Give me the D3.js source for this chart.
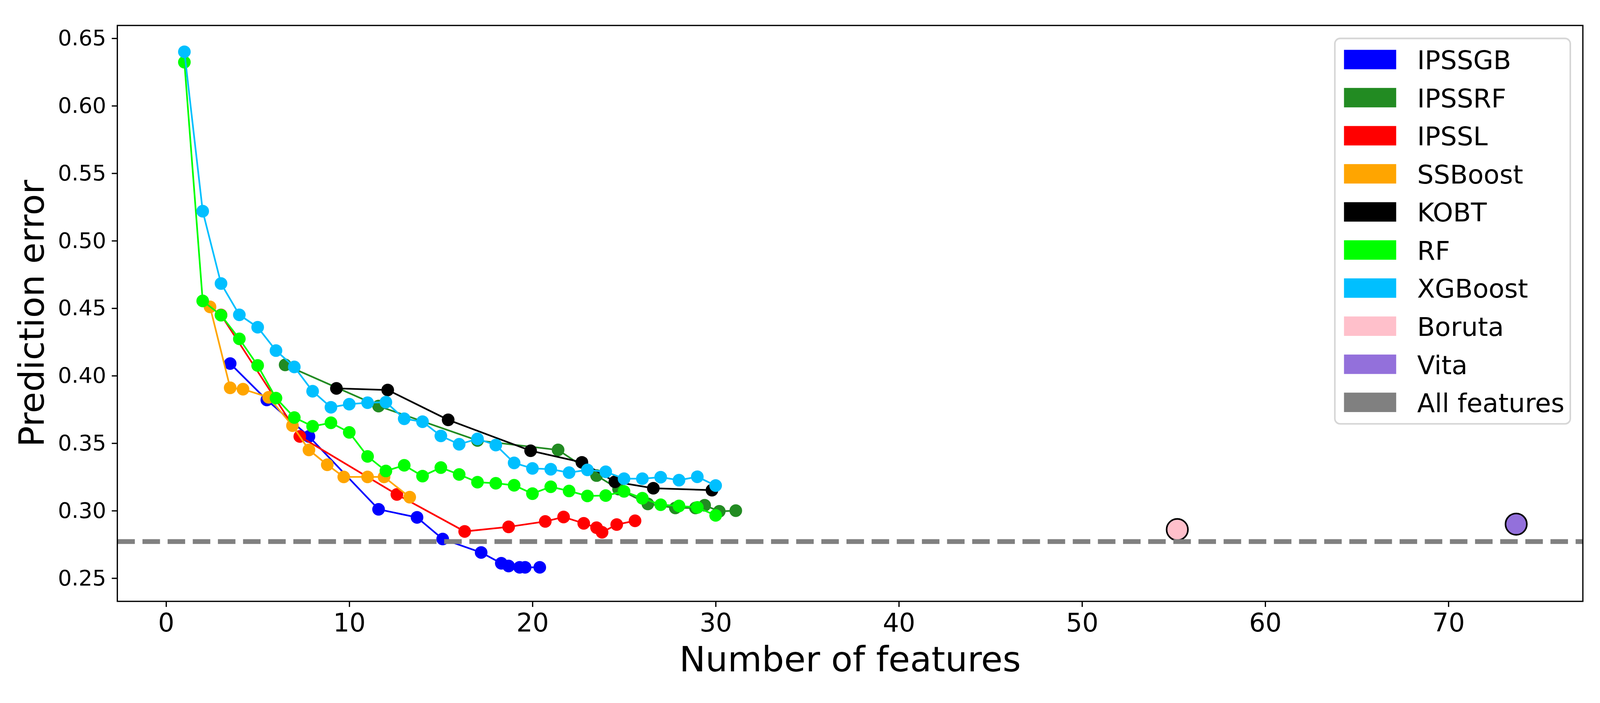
<!DOCTYPE html>
<html>
<head>
<meta charset="utf-8">
<script src="https://d3js.org/d3.v7.min.js"></script>
<style>
    html, body { margin: 0; padding: 0; width: 100%; height: 100%; overflow: hidden; background: #fff; }
    #chart { display: block; width: 100vw; height: 100vh; }
    text { font-family: "DejaVu Sans", sans-serif; }
</style>
</head>
<body>
<svg id="chart" viewBox="0 0 4200 1800" preserveAspectRatio="xMidYMid meet"></svg>
<script>
    // values (number of features, prediction error)
    const ipssgbX = [3.5, 5.5, 7.8, 11.6, 13.7, 15.1, 17.2, 18.3, 18.7, 19.3, 19.6, 20.4];
    const ipssgbY = [0.409, 0.382, 0.355, 0.301, 0.295, 0.279, 0.269, 0.261, 0.259, 0.258, 0.258, 0.258];

    const ipssrfX = [6.5, 11.6, 17.0, 21.4, 23.5, 24.7, 26.3, 27.8, 28.9, 29.4, 30.2, 31.1];
    const ipssrfY = [0.408, 0.3775, 0.352, 0.345, 0.326, 0.316, 0.305, 0.302, 0.302, 0.304, 0.2995, 0.300];

    const ipsslX = [3, 7.3, 12.6, 16.3, 18.7, 20.7, 21.7, 22.8, 23.5, 23.8, 24.6, 25.6];
    const ipsslY = [0.445, 0.355, 0.312, 0.2846, 0.288, 0.292, 0.2953, 0.2906, 0.2874, 0.284, 0.2897, 0.2925];

    const ssboostX = [2.4, 3.5, 4.2, 5.6, 6.9, 7.8, 8.8, 9.7, 11.0, 11.9, 13.3];
    const ssboostY = [0.451, 0.391, 0.390, 0.384, 0.363, 0.345, 0.334, 0.325, 0.325, 0.325, 0.310];

    const kobtX = [9.3, 12.1, 15.4, 19.9, 22.7, 24.5, 26.6, 29.8];
    const kobtY = [0.3906, 0.3894, 0.3673, 0.3444, 0.3358, 0.3214, 0.3166, 0.3152];

    const rfX = [1, 2, 3, 4, 5, 6, 7, 8, 9, 10, 11, 12, 13, 14, 15, 16, 17, 18, 19, 20, 21, 22, 23, 24, 25, 26, 27, 28, 29, 30];
    const rfY = [0.6323, 0.4554, 0.4448, 0.4273, 0.4076, 0.3834, 0.369, 0.3625, 0.3651, 0.358,
                 0.3402, 0.3294, 0.3336, 0.3256, 0.3319, 0.3268, 0.3211, 0.3203, 0.3188, 0.3126,
                 0.3177, 0.3146, 0.3109, 0.3112, 0.3143, 0.3092, 0.3044, 0.3035, 0.3024, 0.2965];

    const xgbX = [1, 2, 3, 4, 5, 6, 7, 8, 9, 10, 11, 12, 13, 14, 15, 16, 17, 18, 19, 20, 21, 22, 23, 24, 25, 26, 27, 28, 29, 30];
    const xgbY = [0.640, 0.5219, 0.4683, 0.4451, 0.4359, 0.4186, 0.4065, 0.3885, 0.3766, 0.3789,
                  0.3800, 0.3804, 0.3681, 0.3659, 0.3554, 0.3492, 0.3532, 0.3486, 0.3354, 0.3313,
                  0.3307, 0.3282, 0.3302, 0.3288, 0.3237, 0.3237, 0.3248, 0.3226, 0.3251, 0.3186];

    const borutaPoint = [55.2, 0.286];
    const vitaPoint = [73.7, 0.290];
    const allFeaturesError = 0.2771;

    const legendLabels = ["IPSSGB", "IPSSRF", "IPSSL", "SSBoost", "KOBT", "RF", "XGBoost", "Boruta", "Vita", "All features"];
    const legendColors = ["#0000ff", "#228b22", "#ff0000", "#ffa500", "#000000", "#00ff00", "#00bfff", "#ffc0cb", "#9370db", "#808080"];

    const xTicks = [0, 10, 20, 30, 40, 50, 60, 70];
    const yTicks = [0.25, 0.30, 0.35, 0.40, 0.45, 0.50, 0.55, 0.60, 0.65];

    // layout
    const margin = { top: 44, right: 45, bottom: 244, left: 308 },
        width = 4200 - margin.left - margin.right,
        height = 1800 - margin.top - margin.bottom;

    const svg = d3.select("#chart");
    svg.append("rect").attr("width", 4200).attr("height", 1800).attr("fill", "#fff");
    const g = svg.append("g")
        .attr("transform", "translate(" + margin.left + "," + margin.top + ")");

    const x = d3.scaleLinear()
        .domain([-2.66, 77.34])
        .range([0, width]);
    const y = d3.scaleLinear()
        .domain([0.2328, 0.6595])
        .range([height, 0]);

    // axes
    const xAxis = g.append("g")
        .attr("transform", "translate(0," + height + ")")
        .call(d3.axisBottom(x).tickValues(xTicks).tickFormat(d3.format("d"))
            .tickSize(14.6).tickPadding(17));
    xAxis.selectAll("text").attr("font-size", 67).attr("fill", "#000");

    const yAxis = g.append("g")
        .call(d3.axisLeft(y).tickValues(yTicks).tickFormat(d3.format(".2f"))
            .tickSize(14.6).tickPadding(14.6));
    yAxis.selectAll("text").attr("font-size", 57).attr("fill", "#000");

    [xAxis, yAxis].forEach(function(a) {
        a.select(".domain").remove();
        a.selectAll("line").attr("stroke", "#000").attr("stroke-width", 3.3);
    });

    // axis labels
    g.append("text")
        .attr("x", width / 2)
        .attr("y", 1740 - margin.top)
        .attr("text-anchor", "middle")
        .attr("font-size", 92)
        .text("Number of features");

    g.append("text")
        .attr("transform", "translate(" + (115 - margin.left) + "," + (height / 2) + ") rotate(-90)")
        .attr("text-anchor", "middle")
        .attr("font-size", 91)
        .text("Prediction error");

    // scatter points go under the lines (matplotlib zorder)
    const singles = [
        { p: borutaPoint, color: legendColors[7] },
        { p: vitaPoint, color: legendColors[8] }
    ];
    g.selectAll(".single")
        .data(singles)
        .join("circle")
        .attr("class", "single")
        .attr("cx", d => x(d.p[0]))
        .attr("cy", d => y(d.p[1]))
        .attr("r", 28)
        .attr("fill", d => d.color)
        .attr("stroke", "#000")
        .attr("stroke-width", 4.2);

    // line series, in plotting order
    const series = [
        { xs: ipssgbX, ys: ipssgbY, color: legendColors[0] },
        { xs: ipssrfX, ys: ipssrfY, color: legendColors[1] },
        { xs: ipsslX, ys: ipsslY, color: legendColors[2] },
        { xs: ssboostX, ys: ssboostY, color: legendColors[3] },
        { xs: kobtX, ys: kobtY, color: legendColors[4] },
        { xs: rfX, ys: rfY, color: legendColors[5] },
        { xs: xgbX, ys: xgbY, color: legendColors[6] }
    ];

    const line = d3.line()
        .x(d => x(d[0]))
        .y(d => y(d[1]));

    series.forEach(function(s) {
        const pts = s.xs.map((v, i) => [v, s.ys[i]]);
        const sg = g.append("g");
        sg.append("path")
            .datum(pts)
            .attr("d", line)
            .attr("fill", "none")
            .attr("stroke", s.color)
            .attr("stroke-width", 4.4)
            .attr("stroke-linejoin", "round");
        sg.selectAll("circle")
            .data(pts)
            .join("circle")
            .attr("cx", d => x(d[0]))
            .attr("cy", d => y(d[1]))
            .attr("r", 16.6)
            .attr("fill", s.color);
    });

    // all features reference line
    g.append("line")
        .attr("x1", 0)
        .attr("x2", width)
        .attr("y1", y(allFeaturesError))
        .attr("y2", y(allFeaturesError))
        .attr("stroke", legendColors[9])
        .attr("stroke-width", 12.5)
        .attr("stroke-dasharray", "46,20");

    // frame
    g.append("rect")
        .attr("width", width)
        .attr("height", height)
        .attr("fill", "none")
        .attr("stroke", "#000")
        .attr("stroke-width", 3.3);

    // legend
    const legend = svg.append("g")
        .attr("transform", "translate(3504,78)");
    legend.append("rect")
        .attr("width", 618)
        .attr("height", 1012)
        .attr("rx", 14)
        .attr("fill", "#fff")
        .attr("fill-opacity", 0.8)
        .attr("stroke", "#d6d6d6")
        .attr("stroke-width", 4.2);

    const rows = legend.selectAll(".row")
        .data(legendLabels)
        .join("g")
        .attr("class", "row")
        .attr("transform", (d, i) => "translate(0," + (i * 100) + ")");
    rows.append("rect")
        .attr("x", 24)
        .attr("y", 30)
        .attr("width", 137)
        .attr("height", 51)
        .attr("fill", (d, i) => legendColors[i]);
    rows.append("text")
        .attr("x", 216)
        .attr("y", 81)
        .attr("font-size", 68)
        .attr("fill", "#000")
        .text(d => d);
</script>
</body>
</html>
